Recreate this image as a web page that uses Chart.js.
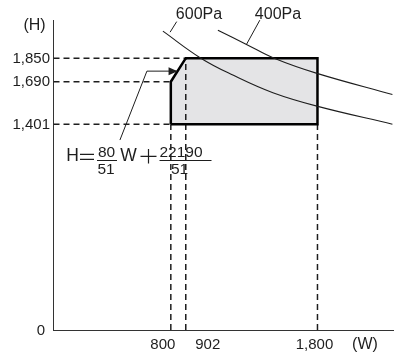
<!DOCTYPE html>
<html>
<head>
<meta charset="utf-8">
<script src="https://cdn.jsdelivr.net/npm/chart.js@4.4.1/dist/chart.umd.min.js"></script>
<style>
  html, body { margin: 0; background: #fff; }
</style>
</head>
<body>
<canvas id="chart" width="402" height="353"></canvas>
<script>
// axis ticks (W on x, H on y)
const X_TICKS = [800, 902, 1800];
const Y_TICKS = [0, 1401, 1690, 1850];

// pressure curves
const CURVE_600_X = [746, 1005, 1223, 1496, 1802, 2311];
const CURVE_600_Y = [2034, 1850, 1735, 1615, 1522, 1401];
const CURVE_400_X = [1121, 1316, 1509, 1802, 2311];
const CURVE_400_Y = [2041, 1944, 1848, 1745, 1603];

// usable range polygon
const ZONE_X = [800, 800, 902, 1800, 1800, 800];
const ZONE_Y = [1401, 1690, 1850, 1850, 1401, 1401];

// dashed guides: [x, y] end points
const GUIDE_H = [[902, 1850], [800, 1690], [800, 1401]];
const GUIDE_V = [[800, 1401], [902, 1850], [1800, 1401]];

// leader lines
const LEAD_FORMULA_X = [453, 637, 840];
const LEAD_FORMULA_Y = [1293, 1762, 1762];
const LEAD_600_X = [795, 840];
const LEAD_600_Y = [2027, 2099];
const LEAD_400_X = [1316, 1407];
const LEAD_400_Y = [1944, 2109];

const INK = '#1e1e1e';
const FONT = '"Liberation Sans", Arial, sans-serif';

const pts = (xs, ys) => xs.map((x, i) => ({ x, y: ys[i] }));
const fmt = v => v.toLocaleString('en-US');

function lineSet(data, extra) {
    return Object.assign({
        data, showLine: true, pointRadius: 0, borderColor: INK,
        borderWidth: 1, fill: false, tension: 0
    }, extra);
}

const datasets = [
    lineSet(pts(ZONE_X, ZONE_Y), { borderWidth: 0, backgroundColor: '#e4e4e6', fill: 'shape', order: 10 }),
    ...GUIDE_H.map(([x, y]) => lineSet([{ x: 0, y }, { x, y }], { borderDash: [6, 4], borderWidth: 1.5, order: 5 })),
    ...GUIDE_V.map(([x, y]) => lineSet([{ x, y: 0 }, { x, y }], { borderDash: [6, 4], borderWidth: 1.5, order: 5 })),
    lineSet(pts(ZONE_X, ZONE_Y), { borderWidth: 2.5, borderColor: '#000', borderJoinStyle: 'miter', order: 2 }),
    lineSet(pts(CURVE_600_X, CURVE_600_Y), { tension: 0.4, borderWidth: 1.1, order: 1 }),
    lineSet(pts(CURVE_400_X, CURVE_400_Y), { tension: 0.4, borderWidth: 1.1, order: 1 }),
    lineSet(pts(LEAD_FORMULA_X, LEAD_FORMULA_Y), { order: 0, clip: false }),
    lineSet(pts(LEAD_600_X, LEAD_600_Y), { order: 0, clip: false }),
    lineSet(pts(LEAD_400_X, LEAD_400_Y), { order: 0, clip: false }),
];

function text(ctx, s, x, y, size, align = 'center') {
    ctx.font = `${size}px ${FONT}`;
    ctx.textAlign = align;
    ctx.fillText(s, x, y);
}

const annotations = {
    id: 'annotations',
    afterDatasetsDraw(chart) {
        const { ctx, scales: { x, y } } = chart;
        ctx.save();
        ctx.fillStyle = INK;
        ctx.strokeStyle = INK;
        ctx.textBaseline = 'middle';

        // tick labels
        const xShift = [-8, 22, -3];
        X_TICKS.forEach((v, i) => text(ctx, fmt(v), x.getPixelForValue(v) + xShift[i], 345, 15));
        Y_TICKS.forEach(v => {
            const right = v === 0 ? 45 : 50;
            text(ctx, fmt(v), right, y.getPixelForValue(v) + 0.5, 15, 'right');
        });
        text(ctx, '(W)', 365, 345, 16);
        text(ctx, '(H)', 34.5, 25.5, 16);

        // curve names
        text(ctx, '600Pa', 199, 14.5, 16);
        text(ctx, '400Pa', 278, 14.5, 16);

        // arrow head on the slanted edge
        const tx = x.getPixelForValue(846), ty = y.getPixelForValue(1762);
        ctx.beginPath();
        ctx.moveTo(tx, ty);
        ctx.lineTo(tx - 9, ty - 4);
        ctx.lineTo(tx - 9, ty + 4);
        ctx.closePath();
        ctx.fill();

        // formula H = 80/51 W + 22190/51
        text(ctx, 'H', 72.5, 156.5, 17.5);
        text(ctx, 'W', 128.5, 156.5, 17.5);
        ctx.lineWidth = 1.2;
        // "=" and "+" are wide in the source typeface
        ctx.beginPath();
        ctx.moveTo(80, 154.3); ctx.lineTo(94, 154.3);
        ctx.moveTo(80, 159.3); ctx.lineTo(94, 159.3);
        ctx.moveTo(140.5, 156.3); ctx.lineTo(156.5, 156.3);
        ctx.moveTo(148.5, 149); ctx.lineTo(148.5, 163.5);
        // fraction bars
        ctx.moveTo(97, 160.5); ctx.lineTo(117, 160.5);
        ctx.moveTo(159.5, 160.5); ctx.lineTo(211.5, 160.5);
        ctx.stroke();
        text(ctx, '80', 106.5, 153, 15.5);
        text(ctx, '51', 106, 170, 15.5);
        text(ctx, '22190', 181, 153, 15.5);
        text(ctx, '51', 179.5, 170, 15.5);
        ctx.restore();
    }
};

const axis = (max) => ({
    type: 'linear', min: 0, max,
    ticks: { display: false },
    grid: { display: false, drawTicks: false },
    border: { display: true, color: '#333', width: 1 }
});

new Chart(document.getElementById('chart'), {
    type: 'scatter',
    data: { datasets },
    options: {
        responsive: false,
        devicePixelRatio: 1,
        animation: false,
        layout: { padding: { left: 53.5, right: 9, top: 20, bottom: 23 } },
        plugins: { legend: { display: false }, tooltip: { enabled: false } },
        scales: { x: axis(2315), y: axis(2110) }
    },
    plugins: [annotations]
});
</script>
</body>
</html>
